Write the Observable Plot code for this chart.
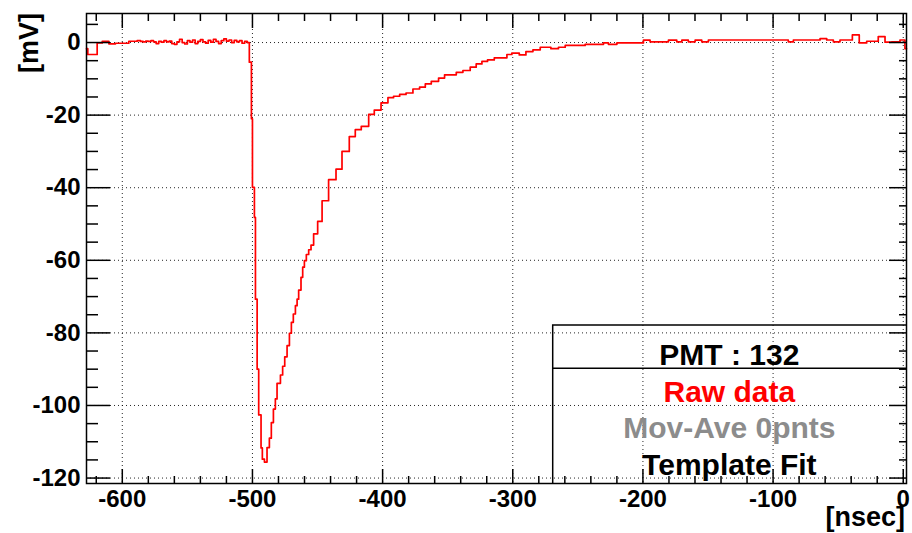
<!DOCTYPE html>
<html><head><meta charset="utf-8">
<script src="https://cdn.jsdelivr.net/npm/d3@7"></script>
<script src="https://cdn.jsdelivr.net/npm/@observablehq/plot@0.6"></script>
<style>
html,body{margin:0;padding:0;background:#fff;}
#chart{width:912px;height:533px;}
svg{font-family:"Liberation Sans",Arial,Helvetica,sans-serif;}
</style></head><body><div id="chart"></div>
<script>
// Raw PMT waveform: change points of the step histogram (ns, mV)
const timeNs = [
 -627.5, -626.5, -619.3, -615.4, -610.3, -605.2, -595.0, -588.6,
 -586, -584, -582, -580, -578, -576, -574, -572, -570, -568, -566,
 -564, -562, -560, -558, -556, -554, -552, -550, -548, -546, -544,
 -542, -540, -538, -536, -534, -532, -530, -528, -526, -524, -522,
 -520, -518, -516, -514, -512, -510, -508, -506, -504,
 -502.4, -500.8, -500.0, -498.5, -497.7, -496.4, -495.2, -493.4, -492.4, -490.8,
 -488.8, -487.0, -485.5, -483.9, -482.4, -481.1, -478.5, -476.8, -475.2, -473.4,
 -471.6, -470.1, -468.6, -467.0, -465.7, -464.5, -462.7, -461.4, -460.1, -458.6,
 -456.8, -455.0, -453.0, -449.9, -446.5, -441.5, -435.8, -431.2, -425.6, -421.0,
 -416.4, -410.7, -406.4, -401.2, -395.9, -391.6, -386.9, -382.0, -376.7, -371.6,
 -367.2, -362.6, -357.0, -352.4, -343.4, -338.3, -332.7, -328.1, -323.7, -319.4,
 -314.2, -304.5, -300.7, -295.0, -289.9, -284.5, -278.9, -270.7, -264.9, -259.7,
 -244.4, -230.3, -226.5, -220.0, -199.6, -194.5, -180.4, -174.0, -170.1, -165.1,
 -159.9, -154.8, -149.7, -88.3, -84.4, -63.9, -58.8, -53.7, -48.6, -39.1,
 -33.8, -28.1, -19.2, -14.0, -8.9, -2.5, 1.3, 2.5
];
const mV = [
 -1.7, -3.3, -0.1, 0.35, -0.35, -0.2, 0.35, 0.5,
 0.3, 0.2, 0.4, 0.3, 0.5, 0.2, -0.3, 0.3, 0.1, 0.5, 0.2,
 0.4, -0.3, -0.5, 0.2, 0.9, 0.0, -0.4, 0.5, 0.1, 0.7, -0.3,
 0.3, 0.8, 0.2, -0.2, 0.6, 0.1, 0.9, 0.3, -0.3, 0.5, 1.0,
 0.4, 0.7, 0.0, 0.6, 0.2, 0.5, -0.2, 0.3, 0.0,
 -5.4, -21.0, -39.9, -48.2, -70.7, -90.0, -102.6, -111.7, -114.8, -115.6,
 -111.6, -109.0, -104.7, -101.0, -98.2, -93.9, -91.6, -89.2, -86.6, -83.5,
 -80.1, -77.1, -74.8, -72.5, -70.7, -68.2, -64.7, -61.9, -60.1, -58.4,
 -57.1, -55.8, -52.7, -49.3, -43.6, -37.8, -34.9, -30.0, -25.9, -24.0,
 -23.1, -19.8, -18.6, -16.6, -15.2, -14.8, -14.3, -13.9, -12.8, -12.3,
 -11.4, -10.7, -9.8, -8.9, -8.2, -7.7, -6.8, -5.9, -5.2, -4.8,
 -4.2, -3.3, -2.9, -3.4, -2.5, -2.0, -1.3, -1.7, -1.3, -0.8,
 -0.5, -0.1, -0.5, -0.1, 0.65, 0.2, 0.65, 0.2, 0.65, 0.2,
 0.65, 0.2, 0.7, 0.2, 0.7, 1.1, 0.7, 0.2, 0.7, 2.1,
 -0.1, 0.35, 1.65, 0.1, 0.2, 0.7, -1.7, -1.7
];
const xTicks = [-600, -500, -400, -300, -200, -100, 0];
const yTicks = [0, -20, -40, -60, -80, -100, -120];
const xMinor = d3.range(-620, 1, 20).filter(d => !xTicks.includes(d));
const yMinor = d3.range(5, -121, -5).filter(d => !yTicks.includes(d));
const xTitle = "[nsec]";
const yTitle = "[mV]";
const legendLabels = ["PMT : 132", "Raw data", "Mov-Ave 0pnts", "Template Fit"];
const legendColors = ["#000000", "#ff0000", "#8c8c8c", "#000000"];

const raw = timeNs.map((t, i) => ({t, v: mV[i]}));

const tk = {stroke: "#000", strokeWidth: 1.5, fill: "none", label: null};
const lab = {tickSize: 0, stroke: "none", label: null, fontSize: 24, fontWeight: "bold", fill: "#000", tickFormat: d => String(d)};

const chart = Plot.plot({
  width: 912, height: 533,
  marginLeft: 86, marginRight: 6, marginTop: 13, marginBottom: 50,
  x: {domain: [-627.5, 2.5]},
  y: {domain: [-121.5, 8]},
  style: {background: "#fff", overflow: "visible"},
  marks: [
    Plot.gridX(xTicks, {stroke: "#000", strokeOpacity: 0.85, strokeDasharray: "1,3", strokeWidth: 1}),
    Plot.gridY(yTicks, {stroke: "#000", strokeOpacity: 0.85, strokeDasharray: "1,3", strokeWidth: 1}),
    Plot.line(raw, {x: "t", y: "v", curve: "step-after", stroke: "#ff0000", strokeWidth: 1.7}),
    Plot.axisX({anchor: "bottom", ticks: xTicks, tickSize: 14, dy: -14, ...tk}),
    Plot.axisX({anchor: "bottom", ticks: xMinor, tickSize: 7, dy: -7, ...tk}),
    Plot.axisX({anchor: "top", ticks: xTicks, tickSize: 14, dy: 14, ...tk}),
    Plot.axisX({anchor: "top", ticks: xMinor, tickSize: 7, dy: 7, ...tk}),
    Plot.axisY({anchor: "left", ticks: yTicks, tickSize: 24, dx: 24, ...tk}),
    Plot.axisY({anchor: "left", ticks: yMinor, tickSize: 12, dx: 12, ...tk}),
    Plot.axisY({anchor: "right", ticks: yTicks, tickSize: 18, dx: -18, ...tk}),
    Plot.axisY({anchor: "right", ticks: yMinor, tickSize: 8, dx: -8, ...tk}),
    Plot.axisX({anchor: "bottom", ticks: xTicks, tickPadding: 6, ...lab}),
    Plot.axisY({anchor: "left", ticks: yTicks, tickPadding: 6, ...lab}),
    Plot.frame({stroke: "#000", strokeWidth: 1.5})
  ]
});
document.getElementById("chart").appendChild(chart);

const svg = d3.select(chart);
svg.append("text").attr("transform", "translate(38,13) rotate(-90)")
  .attr("text-anchor", "end").attr("font-size", 27).attr("font-weight", "bold")
  .attr("fill", "#000").text(yTitle);
svg.append("text").attr("x", 905).attr("y", 526)
  .attr("text-anchor", "end").attr("font-size", 27).attr("font-weight", "bold")
  .attr("fill", "#000").text(xTitle);

// Legend box (TPaveText-like), transparent
const L = 552.7, R = 906, T = 325, D = 368.3, B = 483;
svg.append("path").attr("d", `M${L},${B}V${T}H${R}M${L},${D}H${R}`)
  .attr("fill", "none").attr("stroke", "#000").attr("stroke-width", 1.5);
const baselines = [365, 401.7, 438.3, 475];
legendLabels.forEach((s, i) => {
  svg.append("text").attr("x", (L + R) / 2).attr("y", baselines[i])
    .attr("text-anchor", "middle").attr("font-size", 30).attr("font-weight", "bold")
    .attr("fill", legendColors[i]).text(s);
});
</script></body></html>
